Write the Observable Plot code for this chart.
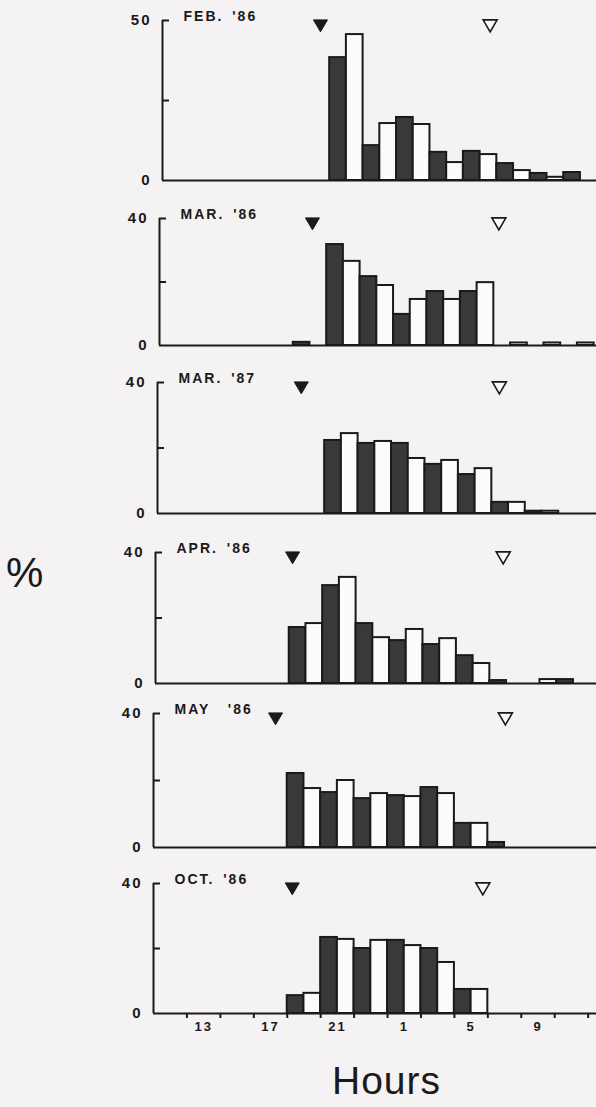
<!DOCTYPE html>
<html>
<head>
<meta charset="utf-8">
<script src="https://cdn.jsdelivr.net/npm/d3@7"></script>
<script src="https://cdn.jsdelivr.net/npm/@observablehq/plot@0.6"></script>
<style>
  html, body { margin: 0; padding: 0; background: #f4f2f2; overflow: hidden; }
  #figure { position: relative; width: 596px; height: 1107px; }
  #figure svg.panel { position: absolute; left: 0; }
  #figure svg.panel text { letter-spacing: 2px; word-spacing: 3px; }
  .big { position: absolute; font-family: "Liberation Sans", Arial, sans-serif; color: #1b1919; }
</style>
</head>
<body>
<div id="figure"></div>
<script>
// Hourly activity (% of the night's total) per month, first bar starting at firstHour.
// Hours past midnight continue as 24, 25, ... so a night stays on one axis.
const panelTitles = ["FEB. '86", "MAR. '86", "MAR. '87", "APR. '86", "MAY  '86", "OCT. '86"];
const firstHour = [20, 18, 20, 18, 18, 18];
const feb86 = [38.4, 45.6, 10.9, 17.8, 19.7, 17.5, 8.8, 5.6, 9.1, 8.1, 5.3, 3.1, 2.2, 1.0, 2.5];
const mar86 = [1.0, 0, 31.8, 26.5, 21.7, 18.9, 9.8, 14.5, 17.0, 14.5, 17.0, 19.8, 0, 0.8, 0, 0.8, 0, 0.8];
const mar87 = [22.3, 24.4, 21.4, 22.0, 21.4, 16.8, 15.0, 16.2, 11.9, 13.7, 3.4, 3.4, 0.7, 0.7];
const apr86 = [17.1, 18.3, 29.9, 32.4, 18.3, 14.0, 13.1, 16.5, 11.9, 13.7, 8.5, 6.1, 0.9, 0, 0, 1.2, 1.2];
const may86 = [22.1, 17.6, 16.4, 20.0, 14.6, 16.1, 15.5, 15.2, 17.9, 16.1, 7.2, 7.2, 1.5];
const oct86 = [5.5, 6.2, 23.4, 22.8, 20.0, 22.5, 22.5, 20.9, 20.0, 15.7, 7.4, 7.4];
const panelValues = [feb86, mar86, mar87, apr86, may86, oct86];

// Sunset (filled marker) and sunrise (open marker), in hours
const sunset = [19.45, 19.15, 18.6, 18.2, 17.3, 18.3];
const sunrise = [29.6, 30.3, 30.45, 30.8, 31.05, 29.7];

// Y-axis maximum per panel
const yMax = [50, 40, 40, 40, 40, 40];

// Bottom axis: ticks every two hours, labels every four
const tickHours = [12, 14, 16, 18, 20, 22, 24, 26, 28, 30, 32, 34, 36];
const labelHours = [13, 17, 21, 25, 29, 33];

// Page layout (pixels)
const WIDTH = 596;
const MARGIN_LEFT = 153;
const X_DOMAIN = [10, 36.5];
const PX_PER_HOUR = (WIDTH - MARGIN_LEFT) / (X_DOMAIN[1] - X_DOMAIN[0]);
const frameTop = [20, 218, 382, 552, 713, 883];
const frameBottom = [180, 345, 513, 683, 847, 1013];
const panelShift = [9, 6, 4, 2, 0, 0];
const MT = 16;

const DARK = "#3a3838";
const LIGHT = "#fcfbfb";
const INK = "#1b1919";

// Downward-pointing triangle for the sun markers
const triangleDown = {
  draw(context, size) {
    const r = Math.sqrt(size / Math.PI);
    context.moveTo(-r, -r * 0.8);
    context.lineTo(r, -r * 0.8);
    context.lineTo(0, r * 0.9);
    context.closePath();
  }
};

const figure = document.getElementById("figure");

panelValues.forEach((values, i) => {
  const rows = values
    .map((v, k) => ({hour: firstHour[i] + k, value: v}))
    .filter(d => d.value > 0);
  const last = i === panelValues.length - 1;
  const mb = last ? 34 : 4;
  const height = frameBottom[i] - frameTop[i] + MT + mb;
  const top = yMax[i];

  const marks = [
    Plot.rectY(rows, {
      x1: "hour",
      x2: d => d.hour + 1,
      y: "value",
      fill: d => (d.hour % 2 === 0 ? DARK : LIGHT),
      stroke: INK,
      strokeWidth: 2
    }),
    Plot.ruleY([0], {stroke: INK, strokeWidth: 2}),
    Plot.ruleX([X_DOMAIN[0]], {y1: 0, y2: top, stroke: INK, strokeWidth: 2}),
    Plot.ruleY([top / 2, top], {
      x1: X_DOMAIN[0],
      x2: X_DOMAIN[0] + 7 / PX_PER_HOUR,
      stroke: INK,
      strokeWidth: 2
    }),
    Plot.axisY([0, top], {
      tickSize: 0,
      tickPadding: 11,
      fontWeight: "bold",
      fontSize: 15,
      fill: INK,
      label: null
    }),
    Plot.text([panelTitles[i]], {
      frameAnchor: "top-left",
      dx: 21,
      dy: -4,
      textAnchor: "start",
      lineAnchor: "middle",
      fontWeight: "bold",
      fontSize: 14,
      fill: INK
    }),
    Plot.dot([sunset[i]], {
      x: d => d,
      y: top,
      dy: 5,
      r: 7,
      symbol: triangleDown,
      fill: INK,
      stroke: INK,
      strokeWidth: 1
    }),
    Plot.dot([sunrise[i]], {
      x: d => d,
      y: top,
      dy: 5,
      r: 7,
      symbol: triangleDown,
      fill: LIGHT,
      stroke: INK,
      strokeWidth: 1.6
    })
  ];

  if (last) {
    marks.push(
      Plot.axisX(tickHours, {
        tickSize: 5,
        strokeWidth: 2,
        stroke: INK,
        tickFormat: () => "",
        label: null
      }),
      Plot.axisX(labelHours, {
        tickSize: 0,
        tickPadding: 8,
        tickFormat: h => String(h % 24 === 0 ? 24 : h % 24),
        fontWeight: "bold",
        fontSize: 13,
        fill: INK,
        label: null
      })
    );
  }

  const svg = Plot.plot({
    width: WIDTH,
    height,
    marginLeft: MARGIN_LEFT,
    marginRight: 0,
    marginTop: MT,
    marginBottom: mb,
    className: "panel",
    style: {
      background: "transparent",
      fontFamily: "'Liberation Sans', Arial, sans-serif",
      overflow: "visible"
    },
    x: last ? {domain: X_DOMAIN} : {domain: X_DOMAIN, axis: null},
    y: {domain: [0, top]},
    marks
  });
  svg.style.top = (frameTop[i] - MT) + "px";
  svg.style.left = panelShift[i] + "px";
  figure.appendChild(svg);
});

// Shared axis titles
const pct = document.createElement("div");
pct.className = "big";
pct.textContent = "%";
Object.assign(pct.style, {left: "6px", top: "549px", fontSize: "42px"});
figure.appendChild(pct);

const hrs = document.createElement("div");
hrs.className = "big";
hrs.textContent = "Hours";
Object.assign(hrs.style, {left: "332px", top: "1059px", fontSize: "39px", letterSpacing: "1px"});
figure.appendChild(hrs);
</script>
</body>
</html>
